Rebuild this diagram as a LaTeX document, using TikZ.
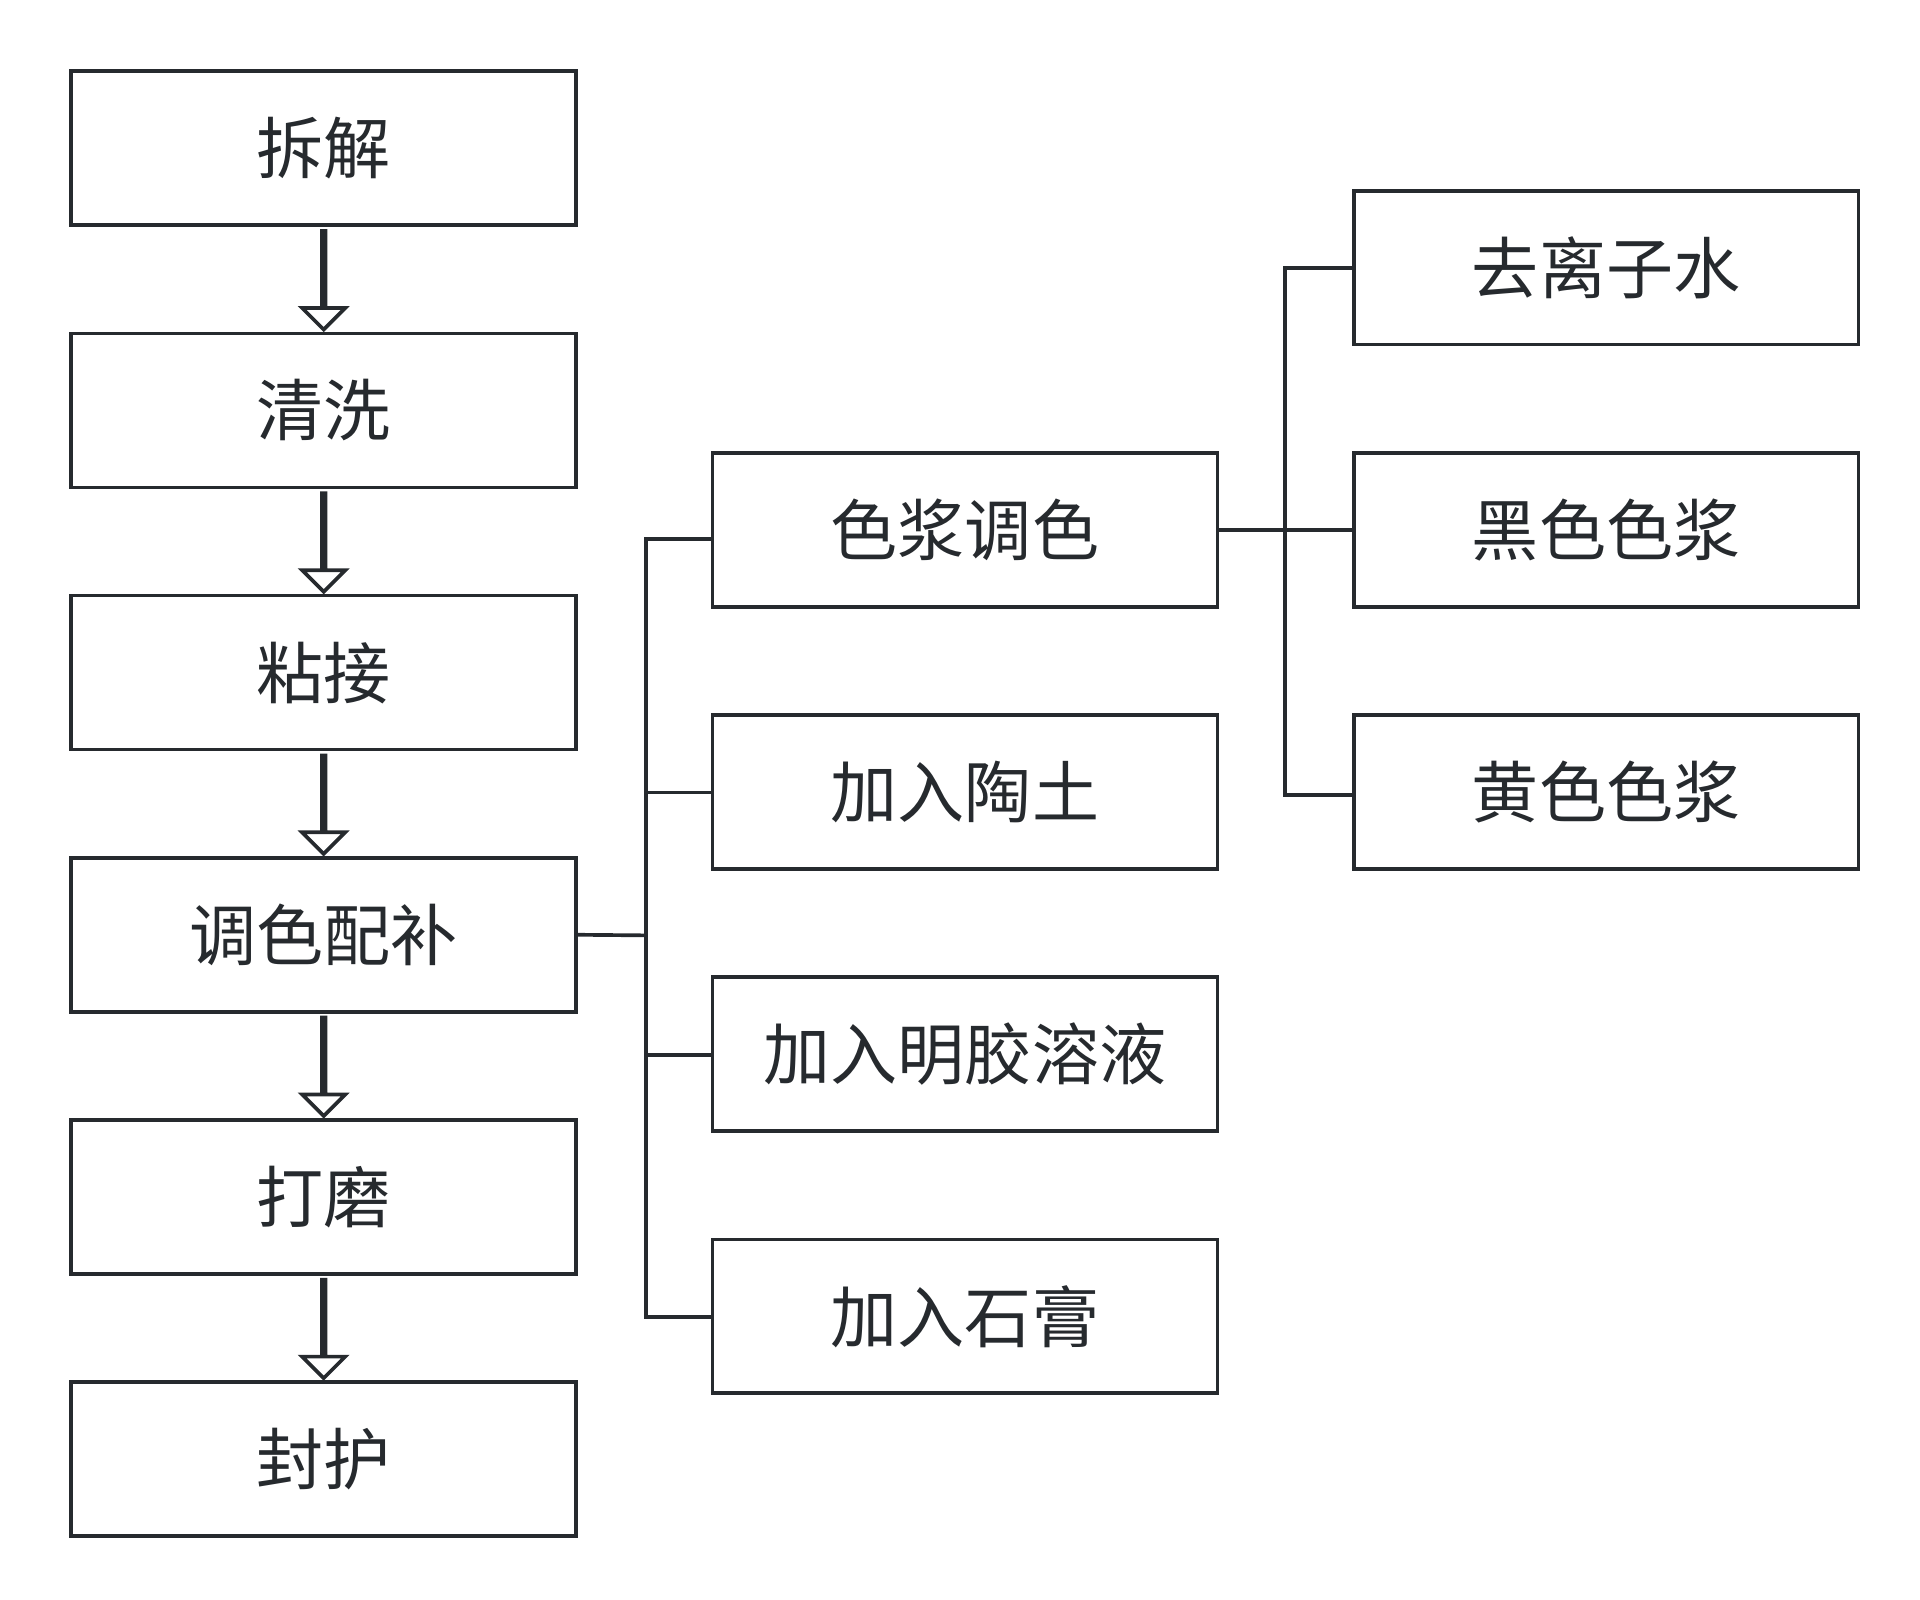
\documentclass[tikz,border=0pt]{standalone}
\usepackage{fontspec}
\setmainfont{Noto Sans CJK SC}
\usetikzlibrary{shapes.arrows}
\definecolor{ink}{HTML}{262A2E}
\begin{document}
\begin{tikzpicture}[x=0.01cm,y=-0.01cm,
  box/.style={draw=ink,line width=0.85pt,minimum width=4.1cm,minimum height=1.25cm,inner sep=0pt,font=\fontsize{15.5}{18}\selectfont,text=ink},
  hol/.style={draw=ink,line width=0.85pt,single arrow,shape border rotate=270,minimum width=0.2cm,single arrow head extend=0.16cm,single arrow tip angle=90,minimum height=0.8cm,inner sep=0pt},
  ln/.style={draw=ink,line width=0.85pt}]
\useasboundingbox (0,0) rectangle (1560,1300);
\foreach \n/\t/\y in {a/拆解/120.5,b/清洗/333.5,c/粘接/546.5,d/调色配补/759.5,e/打磨/972.5,f/封护/1185.5}
  \node[box] (\n) at (263,\y) {\t};
\foreach \y/\n in {227/ab,440/bc,653/cd,866/de,1079/ef}
  \node[hol] (h\n) at (263,\y) {};
\node[box] (m1) at (784,430.5) {色浆调色};
\node[box] (m2) at (784,643.5) {加入陶土};
\node[box] (m3) at (784,856.5) {加入明胶溶液};
\node[box] (m4) at (784,1069.5) {加入石膏};
\node[box] (r1) at (1305,217.5) {去离子水};
\node[box] (r2) at (1305,430.5) {黑色色浆};
\node[box] (r3) at (1305,643.5) {黄色色浆};
\coordinate (bus) at (525,760);
\draw[ln] (d.east) -- (bus);
\draw[ln] (m1.west|-0,438) -| (525,1070) -- (m4.west|-0,1070);
\draw[ln] (525,644) -- (m2.west|-0,644);
\draw[ln] (525,857) -- (m3.west|-0,857);
\draw[ln] (m1.east) -- (r2.west);
\draw[ln] (r1.west) -| (1044,646) -- (r3.west|-0,646);
\end{tikzpicture}
\end{document}
